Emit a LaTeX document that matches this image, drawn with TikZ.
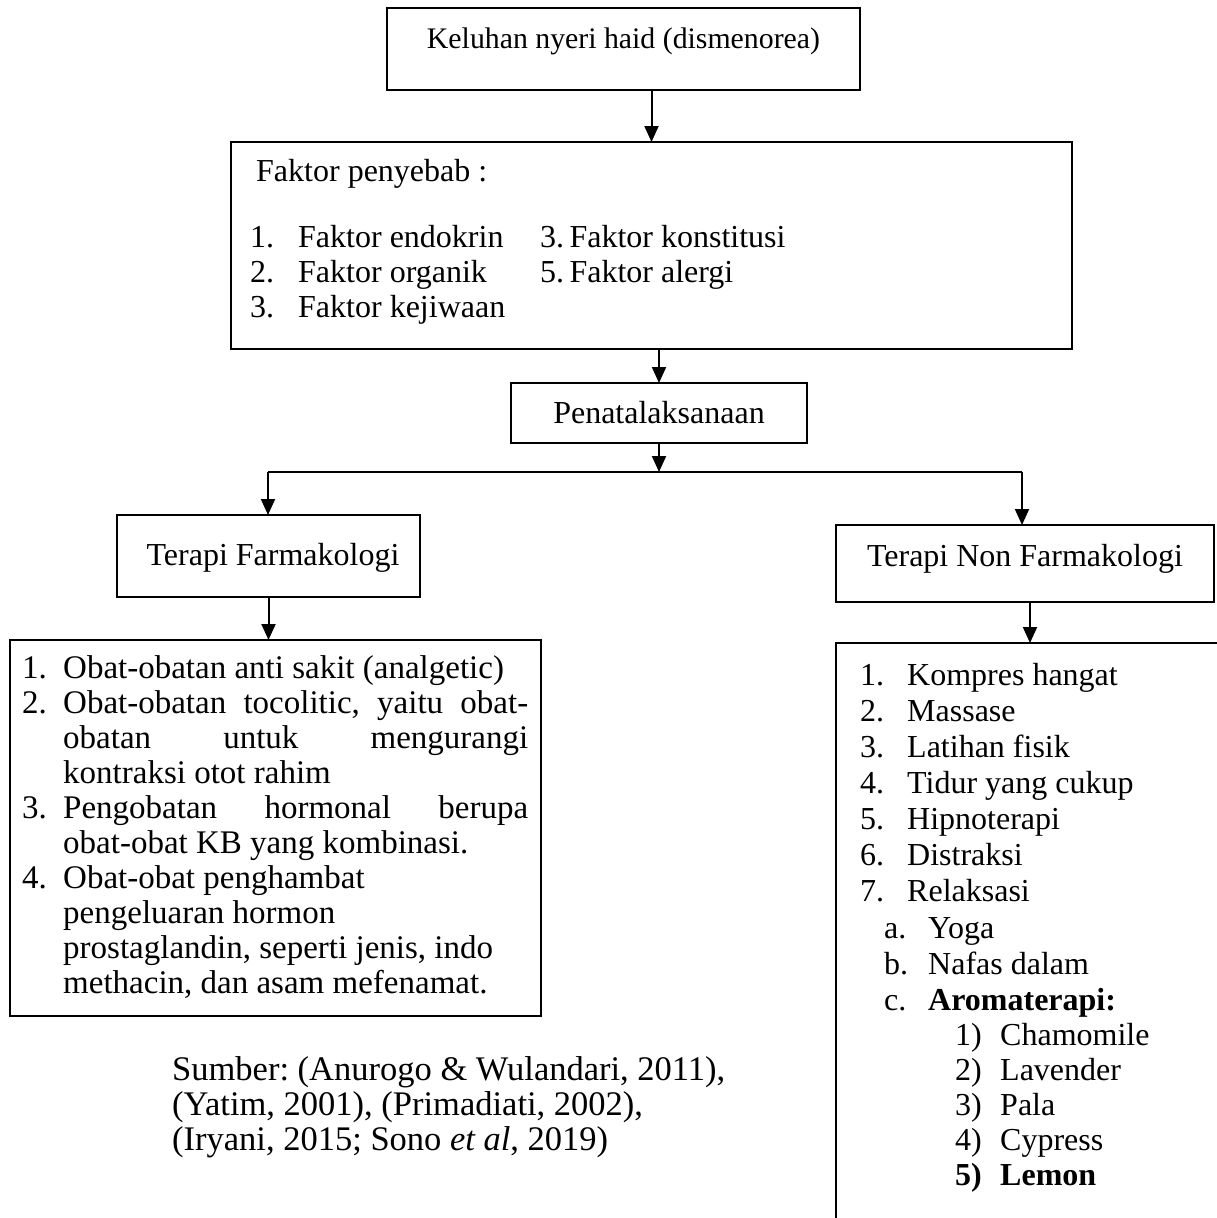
\documentclass[tikz,border=0pt]{standalone}
\usepackage{fontspec}
\setmainfont{Liberation Serif}
\usetikzlibrary{arrows.meta}
\newcommand\jline[1]{\hbox to 465pt{#1}}
\begin{document}
\frenchspacing
\begin{tikzpicture}[x=1pt,y=-1pt,
  box/.style={draw, line width=2.6pt, inner sep=0pt, outer sep=0pt},
  txt/.style={anchor=base west, inner sep=0pt, font=\fontsize{32}{35}\selectfont},
  ltxt/.style={anchor=base west, inner sep=0pt, font=\fontsize{33}{35}\selectfont},
  stxt/.style={anchor=base west, inner sep=0pt, font=\fontsize{34.5}{35}\selectfont},
  ctxt/.style={anchor=base, inner sep=0pt, font=\fontsize{32}{35}\selectfont},
  conn/.style={line width=2pt},
  arr/.style={line width=2pt, -{Triangle[width=14pt,length=16pt]}}]
\useasboundingbox (0,0) rectangle (1217,1218);
\clip (0,0) rectangle (1217,1218);
\fill[white] (0,0) rectangle (1217,1218);

% boxes
\node[box, minimum width=473pt, minimum height=82pt] (top) at (623.5,49) {};
\node[box, minimum width=841pt, minimum height=207pt] (fak) at (651.5,245.5) {};
\node[box, minimum width=296pt, minimum height=60pt] (pen) at (659,413) {};
\node[box, minimum width=303pt, minimum height=82pt] (tf) at (268.5,556) {};
\node[box, minimum width=378pt, minimum height=77pt] (tnf) at (1025,563.5) {};
\node[box, minimum width=531pt, minimum height=376pt] (lf) at (275.5,828) {};
\node[box, minimum width=400pt, minimum height=600pt] (lnf) at (1036,943) {};

% connectors
\coordinate (hl) at (268,472);
\coordinate (hr) at (1022,472);
\coordinate (cx) at (1030,600);
\draw[arr] (top.south -| fak.north) -- (fak.north);
\draw[arr] (fak.south -| pen.north) -- (pen.north);
\draw[arr] (pen.south) -- (pen.south |- hl);
\draw[conn] (hl) -- (hr);
\draw[arr] (hl) -- (tf.north -| hl);
\draw[arr] (hr) -- (tnf.north -| hr);
\draw[arr] (tf.south) -- (tf.south |- lf.north);
\draw[arr] (tnf.south -| cx) -- (lnf.north -| cx);

% single texts
\node[ctxt, font=\fontsize{29.8}{35}\selectfont] (ttop) at (623.5,48) {Keluhan nyeri haid (dismenorea)};
\node[ctxt] (tpen) at (659,423) {Penatalaksanaan};
\node[ctxt] (ttf) at (273,565) {Terapi Farmakologi};
\node[ctxt] (ttnf) at (1025,566) {Terapi Non Farmakologi};

% faktor box
\node[txt] (f0) at (256,181) {Faktor penyebab :};
\node[txt] (f1n) at (250,247) {1.};
\node[txt] (f1) at (298,247) {Faktor endokrin};
\node[txt] (f2n) at (250,282) {2.};
\node[txt] (f2) at (298,282) {Faktor organik};
\node[txt] (f3n) at (250,317) {3.};
\node[txt] (f3) at (298,317) {Faktor kejiwaan};
\node[txt] (f4) at (540,247) {3.\,Faktor konstitusi};
\node[txt] (f5) at (540,282) {5.\,Faktor alergi};

% left list
\node[ltxt] (a1n) at (22,678) {1.};
\node[ltxt] (a1) at (63,678) {Obat-obatan anti sakit (analgetic)};
\node[ltxt] (a2n) at (22,713) {2.};
\node[ltxt] (a2) at (63,713) {\jline{Obat-obatan\hfill tocolitic,\hfill yaitu\hfill obat-}};
\node[ltxt] (a2b) at (63,748) {\jline{obatan\hfill untuk\hfill mengurangi}};
\node[ltxt] (a2c) at (63,783) {kontraksi otot rahim};
\node[ltxt] (a3n) at (22,818) {3.};
\node[ltxt] (a3) at (63,818) {\jline{Pengobatan\hfill hormonal\hfill berupa}};
\node[ltxt] (a3b) at (63,853) {obat-obat KB yang kombinasi.};
\node[ltxt] (a4n) at (22,888) {4.};
\node[ltxt] (a4) at (63,888) {Obat-obat penghambat};
\node[ltxt] (a4b) at (63,923) {pengeluaran hormon};
\node[ltxt] (a4c) at (63,958) {prostaglandin, seperti jenis, indo};
\node[ltxt] (a4d) at (63,993) {methacin, dan asam mefenamat.};

% right list
\node[txt] (b1n) at (860,685) {1.};
\node[txt] (b1) at (907,685) {Kompres hangat};
\node[txt] (b2n) at (860,721) {2.};
\node[txt] (b2) at (907,721) {Massase};
\node[txt] (b3n) at (860,757) {3.};
\node[txt] (b3) at (907,757) {Latihan fisik};
\node[txt] (b4n) at (860,793) {4.};
\node[txt] (b4) at (907,793) {Tidur yang cukup};
\node[txt] (b5n) at (860,829) {5.};
\node[txt] (b5) at (907,829) {Hipnoterapi};
\node[txt] (b6n) at (860,865) {6.};
\node[txt] (b6) at (907,865) {Distraksi};
\node[txt] (b7n) at (860,901) {7.};
\node[txt] (b7) at (907,901) {Relaksasi};
\node[txt] (ban) at (884,938) {a.};
\node[txt] (ba) at (928,938) {Yoga};
\node[txt] (bbn) at (884,974) {b.};
\node[txt] (bb) at (928,974) {Nafas dalam};
\node[txt] (bcn) at (884,1010) {c.};
\node[txt] (bc) at (928,1010) {\textbf{Aromaterapi:}};
\node[txt] (c1n) at (955,1045) {1)};
\node[txt] (c1) at (1000,1045) {Chamomile};
\node[txt] (c2n) at (955,1080) {2)};
\node[txt] (c2) at (1000,1080) {Lavender};
\node[txt] (c3n) at (955,1115) {3)};
\node[txt] (c3) at (1000,1115) {Pala};
\node[txt] (c4n) at (955,1150) {4)};
\node[txt] (c4) at (1000,1150) {Cypress};
\node[txt] (c5n) at (955,1185) {\textbf{5)}};
\node[txt] (c5) at (1000,1185) {\textbf{Lemon}};

% source
\node[stxt] (s1) at (172,1080) {Sumber: (Anurogo \& Wulandari, 2011),};
\node[stxt] (s2) at (172,1115) {(Yatim, 2001), (Primadiati, 2002),};
\node[stxt] (s3) at (172,1150) {(Iryani, 2015; Sono \textit{et al}, 2019)};
\end{tikzpicture}
\end{document}
